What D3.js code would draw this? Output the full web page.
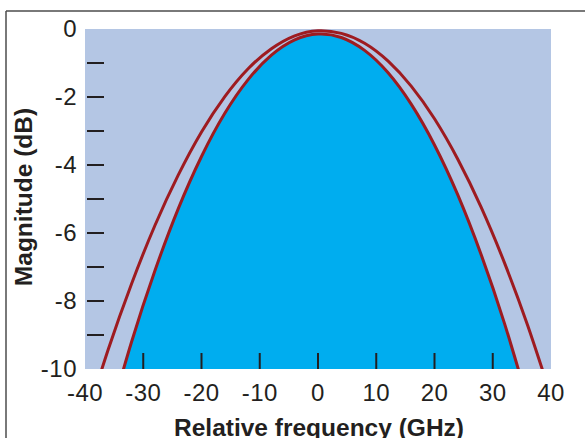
<!DOCTYPE html>
<html>
<head>
<meta charset="utf-8">
<script src="https://cdn.jsdelivr.net/npm/d3@7"></script>
<style>
	body { margin: 0; background: #fff; }
	text { font-family: "Liberation Sans", Arial, sans-serif; fill: #231f20; }
</style>
</head>
<body>
<div id="content"></div>
<script>
// frequency (GHz) and magnitude (dB) of both traces
var outerFreq = [-40, -36, -32, -28, -24, -20, -16, -12, -8, -4, 0, 4, 8, 12, 16, 20, 24, 28, 32, 36, 40];
var outerDb = [-11.58, -9.42, -7.49, -5.78, -4.30, -3.03, -1.99, -1.17, -0.58, -0.20, -0.05, -0.13, -0.42, -0.94, -1.68, -2.64, -3.83, -5.24, -6.87, -8.72, -10.80];

var innerFreq = [-36, -32, -28, -24, -20, -16, -12, -8, -4, 0, 4, 8, 12, 16, 20, 24, 28, 32, 36];
var innerDb = [-11.57, -9.20, -7.11, -5.29, -3.75, -2.48, -1.49, -0.77, -0.32, -0.15, -0.25, -0.63, -1.28, -2.21, -3.41, -4.88, -6.63, -8.65, -10.95];

var xTicks = [-40, -30, -20, -10, 0, 10, 20, 30, 40];
var yTicks = [0, -1, -2, -3, -4, -5, -6, -7, -8, -9, -10];

var draw = function () {
	var W = 585, H = 438;
	var pLeft = 85, pTop = 29, pRight = 551, pBottom = 369;

	var svg = d3.select("#content").append("svg")
		.attr("width", W).attr("height", H);

	var x = d3.scaleLinear().domain([-40, 40]).range([pLeft, pRight]);
	var y = d3.scaleLinear().domain([-10, 0]).range([pBottom, pTop]);

	// frame lines round the figure
	svg.append("line").attr("x1", 6).attr("x2", W).attr("y1", 11).attr("y2", 11)
		.attr("stroke", "#4d4d4d").attr("stroke-width", 1.5);
	svg.append("line").attr("x1", 6).attr("x2", 6).attr("y1", 11).attr("y2", H)
		.attr("stroke", "#4d4d4d").attr("stroke-width", 1.5);

	svg.append("defs").append("clipPath").attr("id", "plotClip")
		.append("rect").attr("x", pLeft).attr("y", pTop - 5)
		.attr("width", pRight - pLeft).attr("height", pBottom - pTop + 5);

	svg.append("rect").attr("x", pLeft).attr("y", pTop)
		.attr("width", pRight - pLeft).attr("height", pBottom - pTop)
		.attr("fill", "#b4c6e4");

	var outer = outerFreq.map(function (f, i) { return [f, outerDb[i]]; });
	var inner = innerFreq.map(function (f, i) { return [f, innerDb[i]]; });

	var plot = svg.append("g").attr("clip-path", "url(#plotClip)");

	var area = d3.area().curve(d3.curveNatural)
		.x(function (d) { return x(d[0]); })
		.y0(pBottom + 20)
		.y1(function (d) { return y(d[1]); });

	var line = d3.line().curve(d3.curveNatural)
		.x(function (d) { return x(d[0]); })
		.y(function (d) { return y(d[1]); });

	plot.append("path").datum(inner).attr("d", area).attr("fill", "#00adef");

	plot.selectAll("path.curve").data([outer, inner])
		.enter().append("path")
		.attr("class", "curve")
		.attr("d", line)
		.attr("fill", "none")
		.attr("stroke", "#9e1b20")
		.attr("stroke-width", 3);

	// ticks sit inside the plot
	svg.selectAll("line.ytick").data(yTicks.filter(function (d) { return d < 0 && d > -10; }))
		.enter().append("line").attr("class", "ytick")
		.attr("x1", pLeft + 2).attr("x2", pLeft + 19)
		.attr("y1", function (d) { return y(d); })
		.attr("y2", function (d) { return y(d); })
		.attr("stroke", "#231f20").attr("stroke-width", 2);

	svg.selectAll("line.xtick").data(xTicks.filter(function (d) { return d > -40 && d < 40; }))
		.enter().append("line").attr("class", "xtick")
		.attr("x1", function (d) { return x(d); })
		.attr("x2", function (d) { return x(d); })
		.attr("y1", pBottom - 16).attr("y2", pBottom)
		.attr("stroke", "#231f20").attr("stroke-width", 2);

	svg.selectAll("text.ylab").data(yTicks.filter(function (d) { return d % 2 == 0; }))
		.enter().append("text").attr("class", "ylab")
		.attr("x", 77)
		.attr("y", function (d) { return y(d) + 8; })
		.attr("text-anchor", "end")
		.attr("font-size", 24).attr("letter-spacing", 0.5)
		.text(function (d) { return d; });

	svg.selectAll("text.xlab").data(xTicks)
		.enter().append("text").attr("class", "xlab")
		.attr("x", function (d) { return x(d); })
		.attr("y", 401)
		.attr("text-anchor", "middle")
		.attr("font-size", 24).attr("letter-spacing", 0.5)
		.text(function (d) { return d; });

	svg.append("text")
		.attr("x", (pLeft + pRight) / 2 + 1)
		.attr("y", 436)
		.attr("text-anchor", "middle")
		.attr("font-size", 24.5).attr("font-weight", "bold")
		.text("Relative frequency (GHz)");

	svg.append("text")
		.attr("transform", "translate(32,197) rotate(-90)")
		.attr("text-anchor", "middle")
		.attr("font-size", 24.5).attr("font-weight", "bold")
		.text("Magnitude (dB)");
};

draw();
</script>
</body>
</html>
